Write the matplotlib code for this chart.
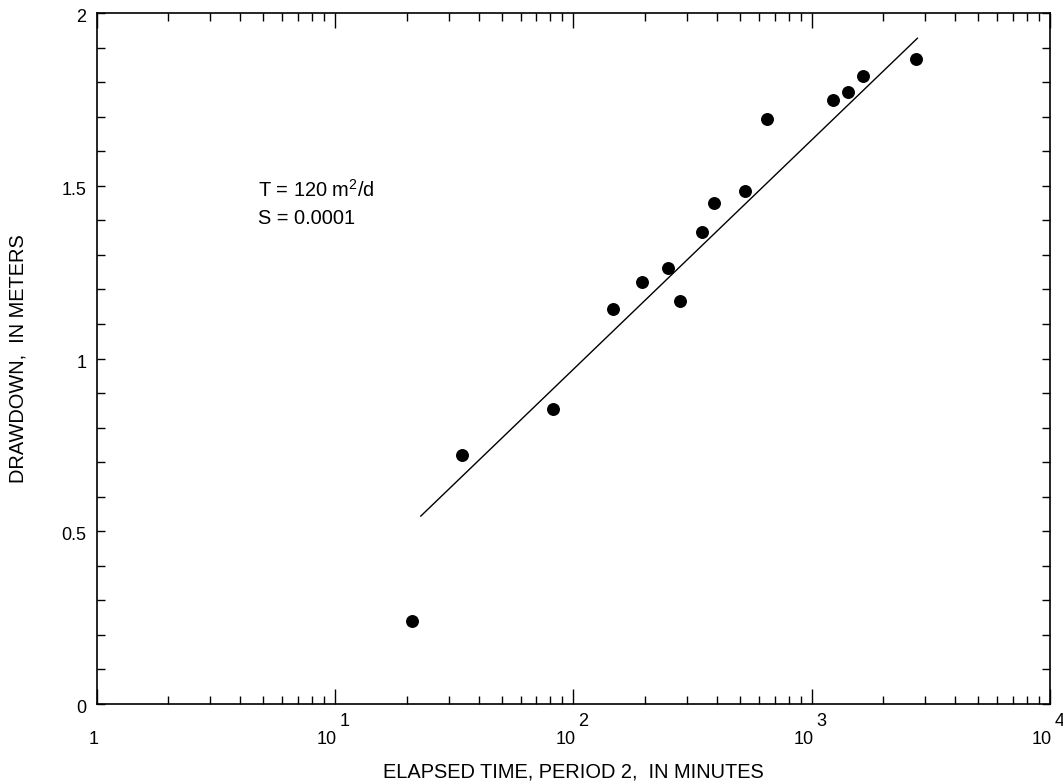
import matplotlib
matplotlib.use('Agg')
import matplotlib.pyplot as plt
import matplotlib.transforms as mtransforms
from matplotlib.ticker import FixedLocator, NullFormatter

plt.rcParams['font.family'] = ['Liberation Sans', 'DejaVu Sans']
plt.rcParams['mathtext.fontset'] = 'custom'
plt.rcParams['mathtext.rm'] = 'Liberation Sans'
plt.rcParams['mathtext.it'] = 'Liberation Sans'

# elapsed time (minutes) and drawdown (m)
elapsed_min = [21.0, 34.0, 81.9, 147, 194, 250, 281, 346, 389, 526, 648,
               1234, 1426, 1639, 2734]
drawdown_m = [0.241, 0.721, 0.853, 1.144, 1.221, 1.263, 1.166, 1.366,
              1.451, 1.486, 1.693, 1.748, 1.770, 1.819, 1.867]

# straight-line fit drawn on the plot
fit_t = [22.9, 2777]
fit_s = [0.544, 1.927]

x_decades = [1, 10, 100, 1000, 10000]
x_exponents = ['', '1', '2', '3', '4']
y_ticks = [0, 0.5, 1, 1.5, 2]
y_labels = ['0', '0.5', '1', '1.5', '2']

fig = plt.figure(figsize=(10.63, 7.84), dpi=100)
ax = fig.add_axes([0.091, 0.102, 0.8968, 0.8814])

ax.plot(fit_t, fit_s, color='black', linewidth=1.0)
ax.plot(elapsed_min, drawdown_m, 'o', color='black', markersize=8.3)

ax.set_xscale('log')
ax.set_xlim(1, 10000)
ax.set_ylim(0, 2)

for side in ['top', 'bottom', 'left', 'right']:
    ax.spines[side].set_linewidth(1.2)

x_minor = [m * d for d in x_decades[:-1] for m in range(2, 10)]
ax.xaxis.set_major_locator(FixedLocator(x_decades))
ax.xaxis.set_minor_locator(FixedLocator(x_minor))
ax.xaxis.set_major_formatter(NullFormatter())
ax.xaxis.set_minor_formatter(NullFormatter())
ax.yaxis.set_major_locator(FixedLocator([i / 10 for i in range(21)]))
ax.yaxis.set_major_formatter(NullFormatter())

ax.tick_params(axis='x', which='major', direction='in', length=11, width=1.0,
               top=True, bottom=True)
ax.tick_params(axis='x', which='minor', direction='in', length=5.5, width=1.0,
               top=True, bottom=True)
ax.tick_params(axis='y', which='major', direction='in', length=5.5, width=1.0,
               left=True, right=True)

# tick labels, placed by hand to mimic the original layout
fs_tick = 13
xtrans = mtransforms.blended_transform_factory(ax.transData, ax.transAxes)
for d, e in zip(x_decades, x_exponents):
    if e == '':
        tr = mtransforms.offset_copy(xtrans, fig=fig, x=-3.5, y=-35, units='dots')
        ax.text(d, 0, '1', transform=tr, ha='center', va='center', fontsize=fs_tick)
    else:
        tr = mtransforms.offset_copy(xtrans, fig=fig, x=-8, y=-35, units='dots')
        ax.text(d, 0, '10', transform=tr, ha='center', va='center', fontsize=fs_tick)
        tr2 = mtransforms.offset_copy(xtrans, fig=fig, x=10, y=-17, units='dots')
        ax.text(d, 0, e, transform=tr2, ha='center', va='center', fontsize=fs_tick)

ytrans = mtransforms.blended_transform_factory(ax.transAxes, ax.transData)
for v, lab in zip(y_ticks, y_labels):
    tr = mtransforms.offset_copy(ytrans, fig=fig, x=-10.5, y=-4.5, units='dots')
    ax.text(0, v, lab, transform=tr, ha='right', va='center', fontsize=fs_tick)

fig.text(0.539, 1 - 772.5 / 784, 'ELAPSED TIME, PERIOD 2,  IN MINUTES',
         ha='center', va='center', fontsize=14.4)
fig.text(18.5 / 1063, 1 - 359 / 784, 'DRAWDOWN,  IN METERS', rotation=90,
         ha='center', va='center', fontsize=14.4)

ax.text(258 / 1063, 1 - 190 / 784, 'T = 120 m$^2$/d', transform=fig.transFigure,
        ha='left', va='center', fontsize=14.4)
ax.text(258 / 1063, 1 - 218 / 784, 'S = 0.0001', transform=fig.transFigure,
        ha='left', va='center', fontsize=14.4)

fig.savefig('out.png', dpi=100)
plt.close(fig)
